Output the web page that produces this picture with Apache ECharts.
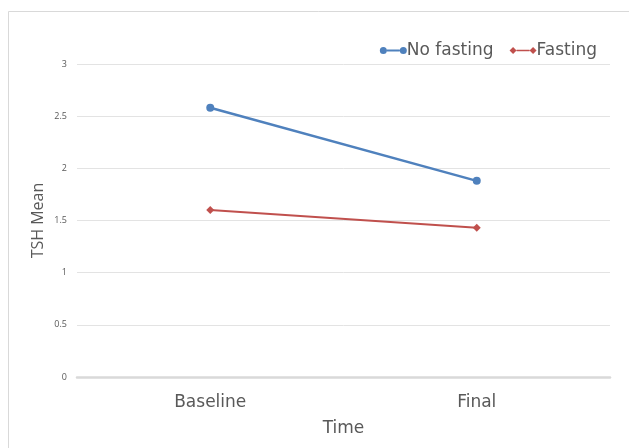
<!DOCTYPE html>
<html><head><meta charset="utf-8">
<script src="https://cdn.jsdelivr.net/npm/echarts@6/dist/echarts.min.js"></script>
<style>html,body{margin:0;padding:0;background:#fff}#c{width:629px;height:448px}</style>
</head><body><div id="c"></div>
<script>
const categories = ['Baseline', 'Final'];
const noFasting = [2.58, 1.88];
const fasting = [1.60, 1.43];
const yTicks = { min: 0, max: 3, interval: 0.5 };

const chart = echarts.init(document.getElementById('c'));
const font = '"Open Sans", "Noto Sans", sans-serif';
const wide = '"DejaVu Sans", sans-serif';
chart.setOption({
  backgroundColor: '#fff',
  animation: false,
  textStyle: { fontFamily: font },
  graphic: [
    { type: 'line', shape: { x1: 8.5, y1: 448, x2: 8.5, y2: 11.5 }, style: { stroke: '#d9d9d9', lineWidth: 1 } },
    { type: 'line', shape: { x1: 8.5, y1: 11.5, x2: 629, y2: 11.5 }, style: { stroke: '#d9d9d9', lineWidth: 1 } }
  ],
  legend: {
    right: 27, top: 37, itemGap: 16, itemWidth: 27, itemHeight: 8,
    textStyle: { fontSize: 17, color: '#595959', fontFamily: wide, padding: [0, 0, 0, -5] },
    data: [
      { name: 'No fasting', icon: 'path://M0,4 a3.5,3.5 0 1,0 7,0 a3.5,3.5 0 1,0 -7,0 Z M7,3 h13 v2 h-13 Z M20,4 a3.5,3.5 0 1,0 7,0 a3.5,3.5 0 1,0 -7,0 Z' },
      { name: 'Fasting', icon: 'path://M0,4 L3.5,0.5 L7,4 L3.5,7.5 Z M7,3.2 h13 v1.6 h-13 Z M20,4 L23.5,0.5 L27,4 L23.5,7.5 Z' }
    ]
  },
  grid: { left: 77, right: 19, top: 64, bottom: 71, containLabel: false },
  xAxis: {
    type: 'category', data: categories, boundaryGap: true,
    axisLine: { lineStyle: { color: '#d9d9d9', width: 2.5 } },
    axisTick: { show: false },
    axisLabel: { fontSize: 17, color: '#595959', margin: 17, fontFamily: wide },
    name: 'Time', nameLocation: 'middle', nameGap: 43, nameMoveOverlap: false,
    nameTextStyle: { fontSize: 17, color: '#595959', fontFamily: wide }
  },
  yAxis: {
    type: 'value', min: yTicks.min, max: yTicks.max, interval: yTicks.interval,
    axisLine: { show: false }, axisTick: { show: false },
    axisLabel: { fontSize: 9, color: '#595959', margin: 10, fontFamily: font },
    splitLine: { lineStyle: { color: '#e3e3e3', width: 1 } },
    name: 'TSH Mean', nameLocation: 'middle', nameGap: 31, nameRotate: 90, nameMoveOverlap: false,
    nameTextStyle: { fontSize: 16, color: '#595959', fontFamily: font }
  },
  series: [
    { name: 'No fasting', type: 'line', data: noFasting, symbol: 'circle', symbolSize: 8,
      itemStyle: { color: '#4f81bd' }, lineStyle: { color: '#4f81bd', width: 2.5 } },
    { name: 'Fasting', type: 'line', data: fasting, symbol: 'diamond', symbolSize: 8,
      itemStyle: { color: '#c0504d' }, lineStyle: { color: '#c0504d', width: 2 } }
  ]
});
</script></body></html>
